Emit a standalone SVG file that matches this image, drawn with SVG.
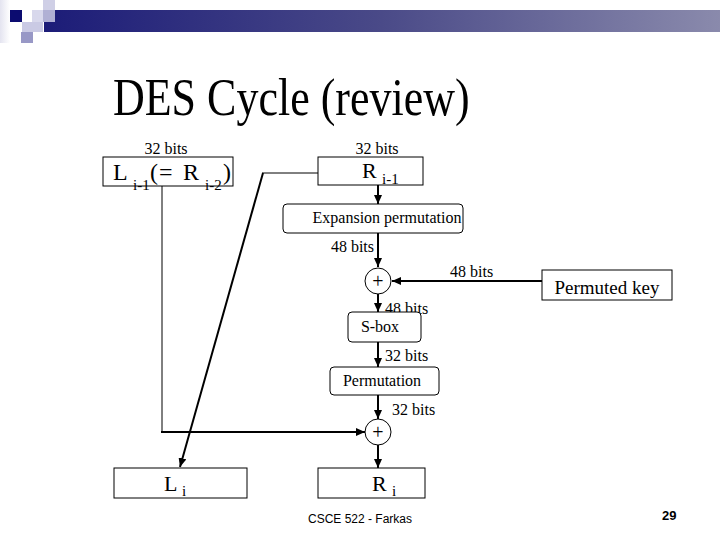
<svg xmlns="http://www.w3.org/2000/svg" width="720" height="540" viewBox="0 0 720 540">
  <defs>
    <linearGradient id="bar" x1="0" y1="0" x2="1" y2="0">
      <stop offset="0" stop-color="#1c1c78"/>
      <stop offset="0.5" stop-color="#4a4a88"/>
      <stop offset="1" stop-color="#8a8aac"/>
    </linearGradient>
    <linearGradient id="side" x1="0" y1="0" x2="1" y2="0">
      <stop offset="0" stop-color="#e4e4f0"/>
      <stop offset="1" stop-color="#ffffff"/>
    </linearGradient>
    <marker id="arr" markerUnits="userSpaceOnUse" markerWidth="10" markerHeight="8" refX="9" refY="4" orient="auto">
      <path d="M0,0 L9,4 L0,8 Z" fill="#000"/>
    </marker>
    <style>
      .box { fill: #fff; stroke: #000; stroke-width: 1; }
      .ser { font-family: "Liberation Serif", "Times New Roman", serif; fill: #000; }
      .lbl { font-size: 16px; }
      .big { font-size: 22px; }
      .bigl { font-size: 24px; }
      .sub { font-size: 15px; }
      .con { fill: none; stroke: #000; stroke-width: 2; }
      .thin { fill: none; stroke: #000; stroke-width: 1; }
    </style>
  </defs>
  <rect width="720" height="540" fill="#fff"/>

  <!-- decoration -->
  <g id="decoration">
    <rect x="0" y="0" width="10" height="43" fill="url(#side)"/>
    <rect x="43" y="0" width="12" height="10" fill="#cfcfe6"/>
    <rect x="32" y="10" width="11" height="12" fill="#d8d8ec"/>
    <rect x="10" y="10" width="12" height="12" fill="#0c0c70"/>
    <rect x="22" y="22" width="21" height="10" fill="#cacae4"/>
    <rect x="21" y="32" width="12" height="11" fill="#9898c6"/>
    <rect x="44" y="10" width="676" height="22" fill="url(#bar)"/>
    <rect x="43" y="10" width="12" height="12" fill="#b0b0d4"/>
  </g>

  <text class="ser" x="113" y="115" font-size="44" transform="translate(113,115) scale(1,1.22) translate(-113,-115)">DES Cycle (review)</text>

  <!-- connectors -->
  <g id="connectors">
    <line class="con" x1="378" y1="185" x2="378" y2="204" marker-end="url(#arr)"/>
    <line class="con" x1="378" y1="233" x2="378" y2="267" marker-end="url(#arr)"/>
    <line class="con" x1="542" y1="281" x2="392" y2="281" marker-end="url(#arr)"/>
    <line class="con" x1="378" y1="294" x2="378" y2="312" marker-end="url(#arr)"/>
    <line class="con" x1="378" y1="342" x2="378" y2="367" marker-end="url(#arr)"/>
    <line class="con" x1="378" y1="395" x2="378" y2="419" marker-end="url(#arr)"/>
    <line class="con" x1="378" y1="445" x2="378" y2="468" marker-end="url(#arr)"/>
    <line class="thin" x1="162" y1="186" x2="162" y2="433"/>
    <line class="con" x1="161" y1="432" x2="365" y2="432" marker-end="url(#arr)"/>
    <line class="thin" x1="318" y1="173" x2="262" y2="173"/>
    <line class="con" x1="263" y1="173" x2="180" y2="467" marker-end="url(#arr)"/>
  </g>

  <!-- nodes -->
  <g id="L_prev">
    <rect class="box" x="103" y="157" width="130" height="29"/>
    <text class="ser lbl" x="166" y="154" text-anchor="middle">32 bits</text>
    <text class="ser bigl" x="113" y="180">L</text>
    <text class="ser sub" x="133" y="190">i-1</text>
    <text class="ser bigl" x="150" y="180">(</text>
    <text class="ser bigl" x="159" y="180">=</text>
    <text class="ser bigl" x="183" y="180">R</text>
    <text class="ser sub" x="205" y="190">i-2</text>
    <text class="ser bigl" x="223" y="180">)</text>
  </g>

  <g id="R_prev">
    <rect class="box" x="318" y="157" width="105" height="28"/>
    <text class="ser lbl" x="377" y="154" text-anchor="middle">32 bits</text>
    <text class="ser big" x="362" y="178">R</text>
    <text class="ser sub" x="382" y="184">i-1</text>
  </g>

  <g id="expansion">
    <rect class="box" x="283" y="204" width="180" height="29" rx="4"/>
    <text class="ser lbl" x="387" y="223" text-anchor="middle">Expansion permutation</text>
    <text class="ser lbl" x="374" y="252" text-anchor="end">48 bits</text>
  </g>

  <g id="xor1">
    <circle cx="378" cy="281" r="13" fill="#fff" stroke="#000" stroke-width="1"/>
    <text class="ser" x="378" y="288" font-size="20" text-anchor="middle">+</text>
    <text class="ser lbl" x="450" y="277">48 bits</text>
  </g>

  <g id="permuted_key">
    <rect class="box" x="542" y="270" width="130" height="30"/>
    <text class="ser" x="607" y="294" font-size="19" text-anchor="middle">Permuted key</text>
  </g>

  <g id="sbox">
    <text class="ser lbl" x="385" y="314">48 bits</text>
    <rect class="box" x="348" y="312" width="73" height="30" rx="4"/>
    <text class="ser lbl" x="380" y="332" text-anchor="middle">S-box</text>
    <text class="ser lbl" x="385" y="361">32 bits</text>
  </g>

  <g id="permutation">
    <rect class="box" x="330" y="367" width="109" height="28" rx="4"/>
    <text class="ser lbl" x="382" y="386" text-anchor="middle">Permutation</text>
    <text class="ser lbl" x="392" y="415">32 bits</text>
  </g>

  <g id="xor2">
    <circle cx="378" cy="432" r="13" fill="#fff" stroke="#000" stroke-width="1"/>
    <text class="ser" x="378" y="439" font-size="20" text-anchor="middle">+</text>
  </g>

  <g id="L_i">
    <rect class="box" x="114" y="468" width="133" height="30"/>
    <text class="ser big" x="164" y="491">L</text>
    <text class="ser sub" x="182" y="496">i</text>
  </g>

  <g id="R_i">
    <rect class="box" x="318" y="468" width="107" height="30"/>
    <text class="ser big" x="372" y="491">R</text>
    <text class="ser sub" x="392" y="496">i</text>
  </g>

  <text x="308" y="523" font-family="Liberation Sans, Arial, sans-serif" font-size="12" fill="#000">CSCE 522 - Farkas</text>
  <text x="662" y="520" font-family="Liberation Sans, Arial, sans-serif" font-size="13" font-weight="bold" fill="#000">29</text>
</svg>
